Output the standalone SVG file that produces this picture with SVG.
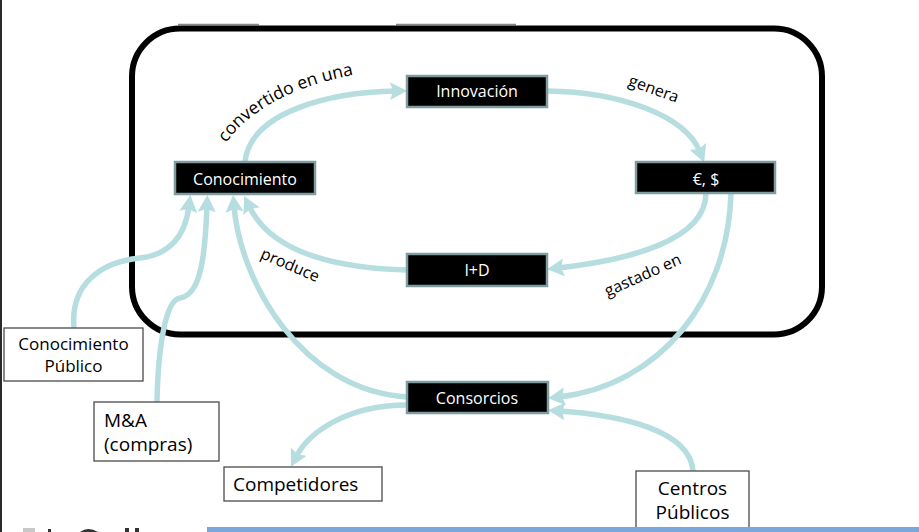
<svg xmlns="http://www.w3.org/2000/svg" width="919" height="532" viewBox="0 0 919 532">
<style>
.node rect{fill:#000;stroke:#7f9ca1;stroke-width:2.5}
.node text{fill:#fff;font-family:"Open Sans","Noto Sans",sans-serif;font-size:16px;text-anchor:middle}
.box rect{fill:#fff;stroke:#4a4a4a;stroke-width:1.3}
.box text{fill:#000;font-family:"Open Sans","Noto Sans",sans-serif;font-size:19px}
.conn path{fill:none;stroke:#b6dde0;stroke-width:5.5}
.lbl{fill:#000;font-family:"Open Sans","Noto Sans",sans-serif;font-size:16px}
</style>
<defs>
<marker id="ah" markerUnits="userSpaceOnUse" viewBox="0 0 18 18" markerWidth="18" markerHeight="18" refX="6" refY="9" orient="auto">
<path d="M0,0 L17,9 L0,18 L3,9 z" fill="#b6dde0"/>
</marker>
</defs>
<rect x="0" y="0" width="919" height="532" fill="#fff"/>
<rect x="0" y="0" width="2" height="532" fill="#2b2b2b"/>
<g id="topmarks" stroke="#888" stroke-width="1.5">
<line x1="178" y1="24.5" x2="259" y2="24.5"/>
<line x1="396" y1="24.5" x2="516" y2="24.5"/>
</g>
<rect id="frame" x="132" y="28.5" width="690" height="306" rx="48" ry="48" fill="none" stroke="#000" stroke-width="6"/>
<g id="connectors" class="conn">
<path d="M245,162 C250,112 330,92 396,91" marker-end="url(#ah)"/>
<path d="M547,91 C620,92 685,115 700,152" marker-end="url(#ah)"/>
<path d="M706,193 C706,240 630,260 558,268" marker-end="url(#ah)"/>
<path d="M407,270 C330,268 270,250 249,206" marker-end="url(#ah)"/>
<path d="M731,193 C728,300 660,385 559,397" marker-end="url(#ah)"/>
<path d="M693,471 C690,430 620,415 559,411" marker-end="url(#ah)"/>
<path d="M407,397 C300,390 240,280 234,206" marker-end="url(#ah)"/>
<path d="M407,405 C350,405 310,430 296,457" marker-end="url(#ah)"/>
<path d="M74,328 C70,285 100,262 140,258 C175,254 186,230 189,206" marker-end="url(#ah)"/>
<path d="M157,402 C158,350 165,300 180,298 C200,295 205,260 207,206" marker-end="url(#ah)"/>
</g>
<g id="labels">
<path id="arc1" d="M226,143 Q266,88 370,72" fill="none"/>
<text class="lbl" style="font-size:17.5px"><textPath href="#arc1">convertido en una</textPath></text>
<text class="lbl" text-anchor="middle" transform="translate(652,94) rotate(20)">genera</text>
<text class="lbl" text-anchor="middle" transform="translate(288,270) rotate(23)">produce</text>
<text class="lbl" text-anchor="middle" transform="translate(645,280) rotate(-24)">gastado en</text>
</g>
<g id="n-innovacion" class="node"><rect x="407" y="76" width="140" height="31"/><text x="477" y="97">Innovación</text></g>
<g id="n-dinero" class="node"><rect x="636" y="162" width="139" height="31"/><text x="706" y="185">€, $</text></g>
<g id="n-conocimiento" class="node"><rect x="175" y="162" width="140" height="32"/><text x="245" y="185">Conocimiento</text></g>
<g id="n-id" class="node"><rect x="407" y="254" width="140" height="32"/><text x="477" y="276">I+D</text></g>
<g id="n-consorcios" class="node"><rect x="407" y="382" width="141" height="31"/><text x="477" y="404">Consorcios</text></g>
<g id="n-conpublico" class="box"><rect x="4" y="328" width="139" height="53"/><text x="73.5" y="350" text-anchor="middle" style="font-size:17px">Conocimiento</text><text x="73.5" y="372" text-anchor="middle" style="font-size:17px">Público</text></g>
<g id="n-ma" class="box"><rect x="94" y="402" width="125" height="59"/><text x="104" y="427">M&amp;A</text><text x="104" y="451">(compras)</text></g>
<g id="n-competidores" class="box"><rect x="224" y="467" width="158" height="34"/><text x="233" y="491">Competidores</text></g>
<g id="n-centros" class="box"><rect x="636" y="471" width="113" height="62"/><text x="692.5" y="495" text-anchor="middle">Centros</text><text x="692.5" y="519" text-anchor="middle">Públicos</text></g>
<rect id="bar" x="207" y="527" width="712" height="5" fill="#7aa7dc"/>
<g id="fragments">
<rect x="23" y="528" width="12" height="4" fill="#c8c8c8"/>
<rect x="48" y="529" width="3" height="3" fill="#333"/>
<path d="M80,532 Q88,526 98,532 z" fill="#333"/>
<rect x="125" y="528" width="4" height="4" fill="#333"/>
<rect x="135" y="528" width="4" height="4" fill="#333"/>
</g>
</svg>
